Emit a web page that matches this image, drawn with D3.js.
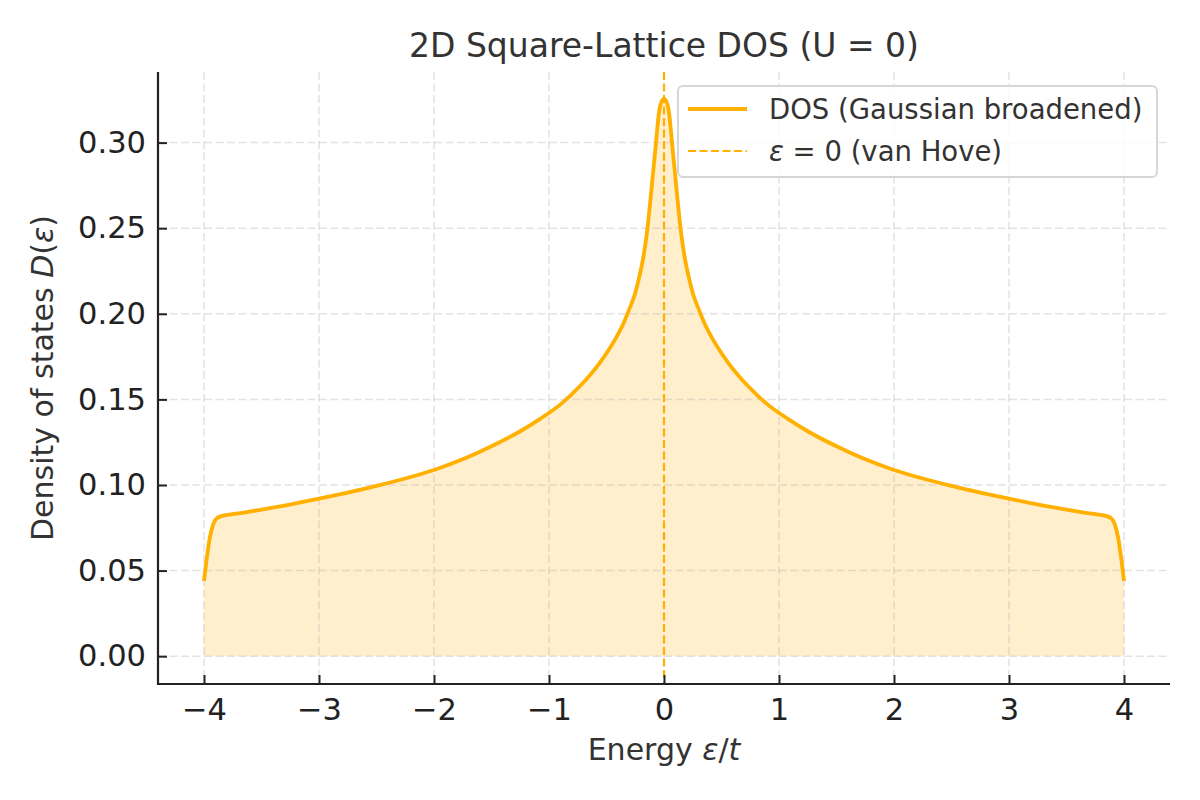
<!DOCTYPE html>
<html>
<head>
<meta charset="utf-8">
<script src="https://cdn.jsdelivr.net/npm/d3@7"></script>
<style>
  body { margin: 0; background: #fff; }
  svg { font-family: "DejaVu Sans", sans-serif; }
</style>
</head>
<body>
<div id="chart"></div>
<script>
// energy grid (units of t) and DOS values
let energy = [
  -4.00, -3.98, -3.95, -3.92, -3.89, -3.85, -3.70, -3.50, -3.30, -3.00,
  -2.75, -2.50, -2.25, -2.00, -1.75, -1.50, -1.25, -1.08, -0.90, -0.73,
  -0.56, -0.48, -0.41, -0.35, -0.30, -0.25, -0.21, -0.18, -0.15, -0.11,
  -0.07, -0.04, -0.02, 0.00,
  0.02, 0.04, 0.07, 0.11, 0.15, 0.18, 0.21, 0.25, 0.30, 0.35,
  0.41, 0.48, 0.56, 0.73, 0.90, 1.08, 1.25, 1.50, 1.75, 2.00,
  2.25, 2.50, 2.75, 3.00, 3.30, 3.50, 3.70, 3.85, 3.89, 3.92,
  3.95, 3.98, 4.00
];
let dos = [
  0.0440, 0.0550, 0.0690, 0.0770, 0.0805, 0.0818, 0.0834, 0.0856, 0.0880, 0.0920,
  0.0956, 0.0995, 0.1038, 0.1088, 0.1150, 0.1226, 0.1314, 0.1385, 0.1471, 0.1578,
  0.1712, 0.1790, 0.1868, 0.1948, 0.2030, 0.2122, 0.2230, 0.2330, 0.2465, 0.2720,
  0.2998, 0.3193, 0.3240, 0.3255,
  0.3240, 0.3193, 0.2998, 0.2720, 0.2465, 0.2330, 0.2230, 0.2122, 0.2030, 0.1948,
  0.1868, 0.1790, 0.1712, 0.1578, 0.1471, 0.1385, 0.1314, 0.1226, 0.1150, 0.1088,
  0.1038, 0.0995, 0.0956, 0.0920, 0.0880, 0.0856, 0.0834, 0.0818, 0.0805, 0.0770,
  0.0690, 0.0550, 0.0440
];
let xTicks = [-4, -3, -2, -1, 0, 1, 2, 3, 4];
let yTicks = [0.00, 0.05, 0.10, 0.15, 0.20, 0.25, 0.30];
let xDomain = [-4.4, 4.4];
let yDomain = [-0.01625, 0.34125];
let vanHove = 0;

let width = 1200;
let height = 800;
let plot = { left: 158, right: 1170, top: 72, bottom: 684 };
let orange = '#ffb000';

let svg = d3.select('#chart').append('svg')
    .attr('width', width)
    .attr('height', height);

let x = d3.scaleLinear().domain(xDomain).range([plot.left, plot.right]);
let y = d3.scaleLinear().domain(yDomain).range([plot.bottom, plot.top]);

let points = energy.map((e, i) => ({ e: e, d: dos[i] }));

// relleno bajo la curva
let area = d3.area()
    .x(d => x(d.e))
    .y0(y(0))
    .y1(d => y(d.d))
    .curve(d3.curveMonotoneX);

svg.append('path')
    .datum(points)
    .attr('d', area)
    .attr('fill', orange)
    .attr('fill-opacity', 0.2);

// grid
let grid = svg.append('g').attr('class', 'grid');
grid.selectAll('.gx')
    .data(xTicks)
    .join('line')
    .attr('x1', d => x(d)).attr('x2', d => x(d))
    .attr('y1', plot.top).attr('y2', plot.bottom);
grid.selectAll('.gy')
    .data(yTicks)
    .join('line')
    .attr('x1', plot.left).attr('x2', plot.right)
    .attr('y1', d => y(d)).attr('y2', d => y(d));
grid.selectAll('line')
    .attr('stroke', '#b0b0b0')
    .attr('stroke-opacity', 0.35)
    .attr('stroke-width', 1.5)
    .attr('stroke-dasharray', '8,3.5');

// DOS curve
let line = d3.line()
    .x(d => x(d.e))
    .y(d => y(d.d))
    .curve(d3.curveMonotoneX);

svg.append('path')
    .datum(points)
    .attr('d', line)
    .attr('fill', 'none')
    .attr('stroke', orange)
    .attr('stroke-width', 3.8)
    .attr('stroke-linejoin', 'round');

// van Hove line
svg.append('line')
    .attr('x1', x(vanHove)).attr('x2', x(vanHove))
    .attr('y1', plot.top).attr('y2', plot.bottom)
    .attr('stroke', orange)
    .attr('stroke-width', 2.2)
    .attr('stroke-dasharray', '8,3.5');

// axes (ticks hacia dentro)
let xAxis = d3.axisBottom(x)
    .tickValues(xTicks)
    .tickSize(-9)
    .tickPadding(14)
    .tickFormat(d3.format('d'));

let yAxis = d3.axisLeft(y)
    .tickValues(yTicks)
    .tickSize(-9)
    .tickPadding(12)
    .tickFormat(d3.format('.2f'));

let gx = svg.append('g')
    .attr('transform', 'translate(0,' + plot.bottom + ')')
    .call(xAxis);
let gy = svg.append('g')
    .attr('transform', 'translate(' + plot.left + ',0)')
    .call(yAxis);

[gx, gy].forEach(g => {
    g.select('.domain').remove();
    g.selectAll('.tick line')
        .attr('stroke', '#222')
        .attr('stroke-width', 2);
    g.selectAll('.tick text')
        .attr('fill', '#222')
        .style('font-size', '30.5px')
        .style('font-family', '"DejaVu Sans", sans-serif');
});
gx.selectAll('.tick text').attr('dy', '0.71em').attr('y', 14);

// spines
svg.append('line')
    .attr('x1', plot.left).attr('x2', plot.left)
    .attr('y1', plot.top).attr('y2', plot.bottom + 1)
    .attr('stroke', '#222').attr('stroke-width', 2.2);
svg.append('line')
    .attr('x1', plot.left - 1).attr('x2', plot.right)
    .attr('y1', plot.bottom).attr('y2', plot.bottom)
    .attr('stroke', '#222').attr('stroke-width', 2.2);

// title
svg.append('text')
    .attr('x', (plot.left + plot.right) / 2)
    .attr('y', 57)
    .attr('text-anchor', 'middle')
    .attr('fill', '#333')
    .style('font-size', '33px')
    .text('2D Square-Lattice DOS (U = 0)');

// x label
let xl = svg.append('text')
    .attr('x', (plot.left + plot.right) / 2)
    .attr('y', 760)
    .attr('text-anchor', 'middle')
    .attr('fill', '#333')
    .style('font-size', '30px');
xl.append('tspan').text('Energy ');
xl.append('tspan').style('font-style', 'italic').text('ε');
xl.append('tspan').text('/');
xl.append('tspan').style('font-style', 'italic').text('t');

// y label
let yl = svg.append('text')
    .attr('transform', 'translate(53,' + (plot.top + plot.bottom) / 2 + ') rotate(-90)')
    .attr('text-anchor', 'middle')
    .attr('fill', '#333')
    .style('font-size', '30px');
yl.append('tspan').text('Density of states ');
yl.append('tspan').style('font-style', 'italic').text('D');
yl.append('tspan').text('(');
yl.append('tspan').style('font-style', 'italic').text('ε');
yl.append('tspan').text(')');

// legend
let legend = svg.append('g').attr('class', 'legend');
legend.append('rect')
    .attr('x', 678).attr('y', 86)
    .attr('width', 479).attr('height', 91)
    .attr('rx', 5)
    .attr('fill', '#fff').attr('fill-opacity', 0.8)
    .attr('stroke', '#d6d6d6').attr('stroke-width', 2);

let items = [
    { label: 'DOS (Gaussian broadened)', dash: null, width: 3.8 },
    { label: null, dash: '8,3.5', width: 2.2 }
];
items.forEach((it, i) => {
    let cy = 109 + i * 42;
    legend.append('line')
        .attr('x1', 688).attr('x2', 747)
        .attr('y1', cy).attr('y2', cy)
        .attr('stroke', orange)
        .attr('stroke-width', it.width)
        .attr('stroke-dasharray', it.dash);
    let t = legend.append('text')
        .attr('x', 769).attr('y', cy + 10)
        .attr('fill', '#333')
        .style('font-size', '27.5px');
    if (it.label) {
        t.text(it.label);
    } else {
        t.append('tspan').style('font-style', 'italic').text('ε');
        t.append('tspan').text(' = 0 (van Hove)');
    }
});
</script>
</body>
</html>
